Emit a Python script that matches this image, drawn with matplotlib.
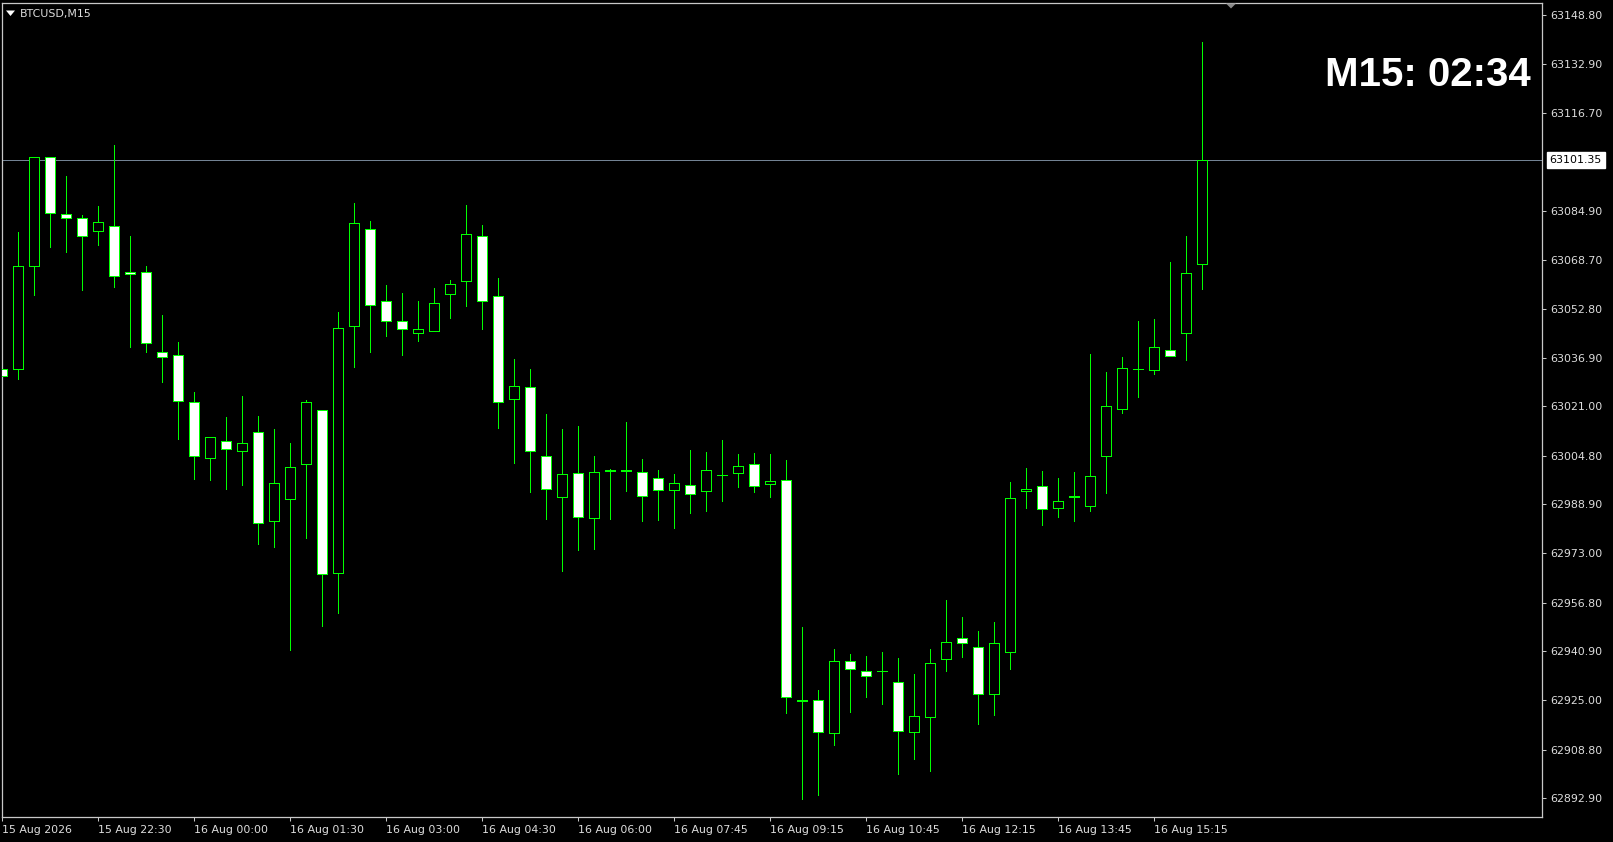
import matplotlib
matplotlib.use('Agg')
import matplotlib.pyplot as plt
from matplotlib.patches import Rectangle, Polygon

# ---------------- data ----------------
symbol = "BTCUSD,M15"
timer_text = "M15: 02:34"
current_price = 63101.35

opens = [63033.28, 63033.28, 63066.96, 63102.28, 63083.95, 63082.42, 63078.10, 63079.77, 63064.74, 63064.74,
         63038.57, 63037.59, 63022.24, 63004.01, 63009.53, 63006.43, 63012.73, 62983.36, 62990.55, 63002.02,
         63019.69, 62966.40, 63047.07, 63078.79, 63055.27, 63048.73, 63044.81, 63045.47, 63057.56, 63061.80,
         63076.50, 63056.90, 63023.25, 63027.17, 63004.63, 62991.24, 62999.08, 62984.38, 62999.70, 62999.70,
         62999.40, 62997.44, 62993.52, 62995.16, 62993.20, 62998.42, 62999.08, 63002.02, 62995.48, 62996.79,
         62924.65, 62924.92, 62914.14, 62937.66, 62934.39, 62934.39, 62930.80, 62914.47, 62919.37, 62938.31,
         62945.17, 62942.23, 62926.88, 62940.60, 62993.20, 62994.83, 62987.64, 62991.30, 62988.49, 63004.83,
         63020.18, 63033.00, 63032.92, 63039.26, 63045.01, 63067.55]
highs = [63043.31, 63077.87, 63102.28, 63102.28, 63096.20, 63083.53, 63086.40, 63106.36, 63076.57, 63066.83,
         63050.83, 63042.00, 63025.64, 63010.87, 63017.47, 63024.33, 63017.80, 63013.52, 63008.98, 63022.89,
         63019.69, 63051.67, 63087.38, 63081.40, 63060.50, 63057.98, 63055.27, 63059.51, 63062.23, 63086.73,
         63080.10, 63062.78, 63036.32, 63033.05, 63018.45, 63013.55, 63014.53, 63004.73, 63000.38, 63015.74,
         63003.65, 63000.06, 62998.75, 63006.69, 63005.94, 63009.86, 63005.28, 63005.61, 63005.38, 63003.42,
         62948.87, 62928.28, 62941.68, 62940.04, 62939.39, 62940.70, 62938.74, 62933.51, 62941.68, 62957.69,
         62952.13, 62947.56, 62950.50, 62996.24, 63000.81, 62999.83, 62997.54, 62999.50, 63038.05, 63032.17,
         63037.07, 63048.83, 63049.49, 63068.11, 63076.60, 63139.98]
lows = [63019.79, 63029.85, 63057.33, 63073.14, 63071.47, 63058.99, 63073.69, 63059.78, 63040.44, 63038.80,
        63028.74, 63010.41, 62997.15, 62996.96, 62994.08, 62995.39, 62976.08, 62975.07, 62941.51, 62978.07,
        62949.35, 62953.54, 63033.94, 63038.80, 63044.03, 63037.82, 63042.40, 63045.47, 63049.91, 63053.83,
        63046.32, 63013.97, 63002.54, 62993.07, 62984.25, 62967.26, 62973.92, 62974.25, 62984.25, 62993.39,
        62983.59, 62983.92, 62981.31, 62986.21, 62986.86, 62990.13, 62994.70, 62993.07, 62991.43, 62920.87,
        62892.77, 62894.08, 62910.41, 62921.19, 62926.10, 62923.81, 62900.94, 62905.84, 62901.92, 62934.59,
        62939.16, 62917.27, 62920.21, 62935.24, 62987.84, 62982.29, 62984.90, 62983.59, 62986.86, 62992.74,
        63018.88, 63024.10, 63031.62, 63037.30, 63036.19, 63059.38]
closes = [63030.73, 63066.73, 63102.28, 63084.18, 63082.42, 63076.67, 63081.08, 63063.40, 63064.09, 63041.55,
          63036.91, 63022.57, 63004.89, 63010.87, 63006.89, 63008.88, 62982.71, 62995.84, 63001.04, 63022.24,
          62966.34, 63046.45, 63080.75, 63053.96, 63048.73, 63046.12, 63046.12, 63054.61, 63060.82, 63077.16,
          63055.27, 63022.27, 63027.50, 63006.26, 62993.85, 62998.75, 62984.70, 62999.40, 63000.00, 63000.00,
          62991.56, 62993.52, 62995.81, 62992.22, 63000.06, 62998.42, 63001.36, 62994.83, 62996.46, 62925.90,
          62924.95, 62914.47, 62937.66, 62935.05, 62932.76, 62934.39, 62914.79, 62919.69, 62937.01, 62943.87,
          62943.54, 62926.88, 62943.54, 62990.91, 62993.85, 62987.32, 62989.93, 62991.60, 62998.10, 63020.97,
          63033.38, 63033.30, 63040.24, 63037.30, 63064.42, 63101.35]

time_tick_idx = [0, 6, 12, 18, 24, 30, 36, 42, 48, 54, 60, 66, 72]
time_tick_labels = ["15 Aug 2026", "15 Aug 22:30", "16 Aug 00:00", "16 Aug 01:30", "16 Aug 03:00",
                    "16 Aug 04:30", "16 Aug 06:00", "16 Aug 07:45", "16 Aug 09:15", "16 Aug 10:45",
                    "16 Aug 12:15", "16 Aug 13:45", "16 Aug 15:15"]
price_ticks = [63148.80, 63132.90, 63116.70, 63084.90, 63068.70, 63052.80, 63036.90, 63021.00,
               63004.80, 62988.90, 62973.00, 62956.80, 62940.90, 62925.00, 62908.80, 62892.90]

# ---------------- layout ----------------
W, H = 1613, 842
fig = plt.figure(figsize=(W / 100, H / 100), dpi=100, facecolor='black')
ax_l, ax_r, ax_t, ax_b = 1.7, 1542.3, 3.0, 817.0
ax = fig.add_axes([ax_l / W, (H - ax_b) / H, (ax_r - ax_l) / W, (ax_b - ax_t) / H])
ax.set_facecolor('black')

GREEN = '#00ff00'
TXT = '#dddddd'
BORDER = '#c8c8c8'

ax.set_xlim(-0.0375, (ax_r - 2.3) / 16)
ax.set_ylim(62886.79, 63152.72)

x = list(range(len(opens)))
ax.vlines(x, lows, highs, colors=GREEN, linewidth=0.6, antialiased=False, zorder=2)
bw = 0.6
for i in x:
    o, c = opens[i], closes[i]
    up = c >= o
    r = Rectangle((i - bw / 2, min(o, c)), bw, abs(c - o),
                  facecolor='black' if up else 'white', edgecolor=GREEN,
                  linewidth=0.6, antialiased=False, zorder=3)
    ax.add_patch(r)

# current price line
ax.axhline(current_price, color='#778899', linewidth=0.7, zorder=1)

for s in ax.spines.values():
    s.set_color(BORDER)
    s.set_linewidth(0.9)

ax.yaxis.tick_right()
ax.set_yticks(price_ticks)
ax.set_yticklabels([f"{p:.2f}" for p in price_ticks])
ax.tick_params(axis='y', direction='out', length=3, width=0.75, color=BORDER,
               labelcolor=TXT, labelsize=7.9, pad=2.5)
ax.set_xticks(time_tick_idx)
ax.set_xticklabels(time_tick_labels)
for lab in ax.get_xticklabels():
    lab.set_horizontalalignment('left')
ax.tick_params(axis='x', direction='out', length=3, width=0.75, color=BORDER,
               labelcolor=TXT, labelsize=7.9, pad=2.5)

# current price label
ax.annotate(f"{current_price:.2f}", xy=(1, current_price), xycoords=('axes fraction', 'data'),
            xytext=(5.2, 0), textcoords='offset points', va='center', ha='left',
            fontsize=7.9, color='black',
            bbox=dict(boxstyle='square,pad=0.25', fc='white', ec='white'), zorder=10,
            annotation_clip=False)

# title and markers
fig.text(20 / W, 1 - 13.5 / H, symbol, color=TXT, fontsize=7.9, va='center', ha='left')
tri = Polygon([(6 / W, 1 - 10.5 / H), (15 / W, 1 - 10.5 / H), (10.5 / W, 1 - 16 / H)],
              closed=True, transform=fig.transFigure, facecolor='white', edgecolor='none')
fig.add_artist(tri)
shift = Polygon([(1226 / W, 1 - 3.5 / H), (1236 / W, 1 - 3.5 / H), (1231 / W, 1 - 8.5 / H)],
                closed=True, transform=fig.transFigure, facecolor='#8a8a8a', edgecolor='none')
fig.add_artist(shift)

fig.text(1531 / W, 1 - 75.5 / H, timer_text, color='white', fontsize=29, fontweight='bold',
         family='Liberation Sans', ha='right', va='center')

fig.savefig('out.png', dpi=100, facecolor='black')
